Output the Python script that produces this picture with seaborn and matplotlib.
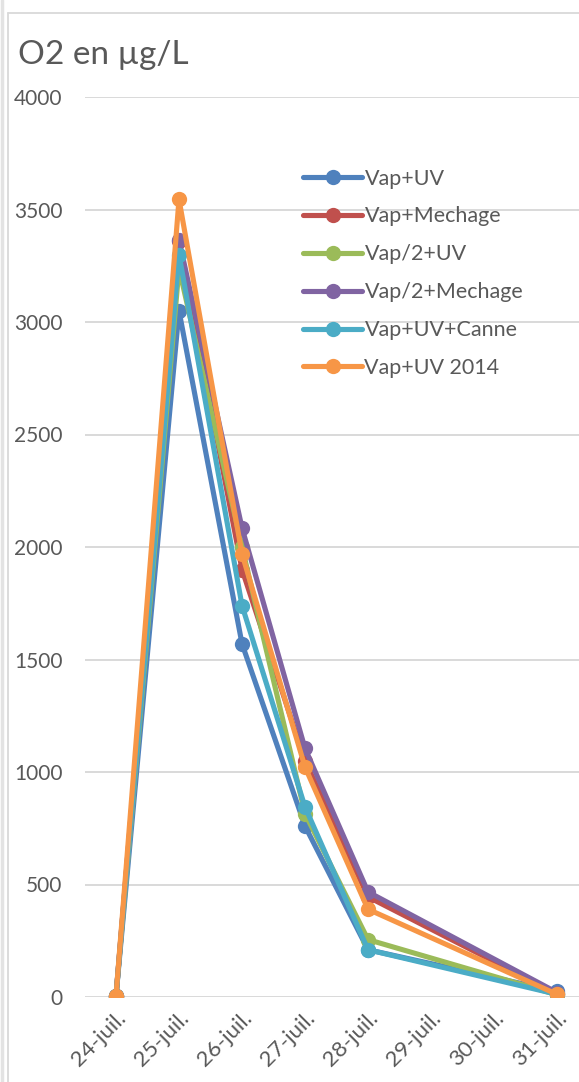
import numpy as np
import pandas as pd
import matplotlib
matplotlib.use('Agg')
import matplotlib.pyplot as plt
import seaborn as sns
from matplotlib.lines import Line2D

# Data (O2 in µg/L), days of July
days = [24, 25, 26, 27, 28, 31]
tick_days = [24, 25, 26, 27, 28, 29, 30, 31]
tick_labels = ['24-juil.', '25-juil.', '26-juil.', '27-juil.', '28-juil.', '29-juil.', '30-juil.', '31-juil.']

series_names = ['Vap+UV', 'Vap+Mechage', 'Vap/2+UV', 'Vap/2+Mechage', 'Vap+UV+Canne', 'Vap+UV 2014']
vap_uv = [5, 3050, 1570, 760, 210, 25]
vap_mechage = [5, 3360, 1900, 1050, 445, 15]
vap2_uv = [5, 3240, 2000, 815, 255, 10]
vap2_mechage = [5, 3365, 2085, 1105, 467, 20]
vap_uv_canne = [5, 3300, 1740, 845, 210, 12]
vap_uv_2014 = [5, 3545, 1970, 1022, 390, 12]

colors = ['#4F81BD', '#C0504D', '#9BBB59', '#8064A2', '#4BACC6', '#F79646']

all_values = [vap_uv, vap_mechage, vap2_uv, vap2_mechage, vap_uv_canne, vap_uv_2014]
df = pd.DataFrame({
    'day': days * len(series_names),
    'o2': np.concatenate(all_values),
    'serie': np.repeat(series_names, len(days)),
})

sns.set_style('white')
plt.rcParams['font.family'] = ['Lato', 'DejaVu Sans']
text_col = '#595959'

fig = plt.figure(figsize=(5.79, 10.82), dpi=100)
ax = fig.add_axes([84.5 / 579, 85 / 1082, 504 / 579, 900 / 1082])

sns.lineplot(data=df, x='day', y='o2', hue='serie', hue_order=series_names,
             palette=colors, marker='o', markersize=11, markeredgewidth=0,
             linewidth=3.7, ax=ax, legend=False)

ax.set_xlim(23.5, 31.5)
ax.set_ylim(0, 4000)
ax.set_yticks(np.arange(0, 4001, 500))
ax.set_xticks(tick_days)
ax.set_xticklabels(tick_labels, rotation=45, ha='right', rotation_mode='anchor')
ax.tick_params(axis='y', length=0, pad=16, labelsize=15, labelcolor=text_col)
ax.tick_params(axis='x', length=0, pad=8, labelsize=16, labelcolor=text_col)
ax.set_xlabel('')
ax.set_ylabel('')
ax.yaxis.grid(True, color='#D9D9D9', linewidth=1.4)
ax.set_axisbelow(True)
for s in ax.spines.values():
    s.set_visible(False)

handles = [Line2D([0], [0], color=c, lw=3.7, marker='o', markersize=11, markeredgewidth=0)
           for c in colors]
leg = ax.legend(handles, series_names, loc='upper left',
                bbox_to_anchor=(210 / 504, (997 - 160) / 900), frameon=False,
                fontsize=15.5, handlelength=2.75, handletextpad=0.1, labelspacing=0.83,
                borderaxespad=0)
for t in leg.get_texts():
    t.set_color(text_col)

fig.text(18 / 579, 1 - 55 / 1082, 'O2 en µg/L', fontsize=24, color=text_col,
         va='center', ha='left')

# chart frame
fig.add_artist(Line2D([8 / 579, 8 / 579], [0, 1 - 13 / 1082], color='#D9D9D9', lw=1.3))
fig.add_artist(Line2D([8 / 579, 1], [1 - 13 / 1082, 1 - 13 / 1082], color='#D9D9D9', lw=1.3))
fig.add_artist(Line2D([2 / 579, 2 / 579], [0, 1], color='#E3E3E3', lw=2.5))

fig.savefig('out.png', dpi=100)
